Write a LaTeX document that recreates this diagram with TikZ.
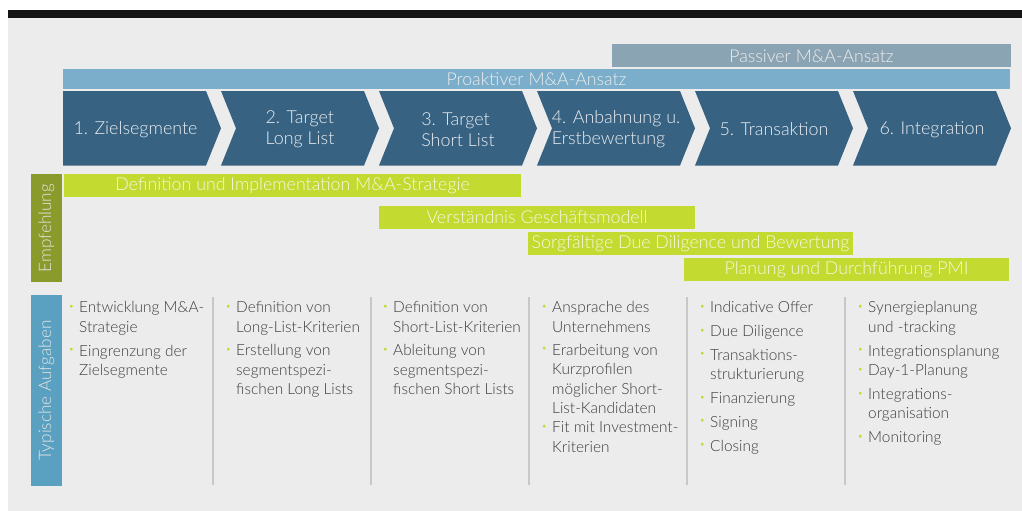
\documentclass[tikz,border=0pt]{standalone}
\usepackage{fontspec}
\setmainfont{Lato Light}
\usepackage{xcolor}
\usetikzlibrary{positioning}
\definecolor{cBack}{RGB}{236,236,236}
\definecolor{cTop}{RGB}{20,20,20}
\definecolor{cChev}{RGB}{55,98,130}
\definecolor{cProakt}{RGB}{123,174,203}
\definecolor{cPassiv}{RGB}{139,164,179}
\definecolor{cGreen}{RGB}{195,218,49}
\definecolor{cOlive}{RGB}{138,155,44}
\definecolor{cSide}{RGB}{90,160,192}
\definecolor{cSep}{RGB}{200,200,200}
\definecolor{cText}{RGB}{60,60,60}
\newcommand\bul{\leavevmode\llap{\raisebox{3.6pt}{\textcolor{cGreen}{\fontsize{9.5}{9.5}\selectfont\textbullet}}\hspace{5pt}}}

\begin{document}
\begin{tikzpicture}[x=1pt,y=1pt,font=\fontsize{17.7}{20}\selectfont,
  bar/.style={inner sep=0pt,minimum height=23,text=white!93!black},
  gbar/.style={bar,fill=cGreen,text=white!85!cGreen,font=\fontsize{17.8}{20}\selectfont},
  side/.style={inner sep=0pt,rotate=90,minimum height=31,text=white!90!black,font=\fontsize{17.2}{20}\selectfont},
  chev/.style={align=left,inner sep=0pt,text=white!90!cChev,font=\fontsize{17.9}{21}\selectfont},
  task/.style={anchor=north west,align=left,inner sep=0pt,text=cText,font=\fontsize{15.4}{19.3}\selectfont},
  sep/.style={cSep,line width=1.6pt}]
\useasboundingbox (0,0) rectangle (1022,-511);
\fill[cBack] (8,-18) rectangle (1022,-511);
\fill[cTop] (8,-10) rectangle (1022,-18);
% approach bars
\node[bar,fill=cPassiv,minimum width=399,minimum height=23.5] (passiv) at (811.5,-55.75) {Passiver M\&A-Ansatz};
\node[bar,fill=cProakt,minimum width=947,minimum height=20] (proakt) at (536.5,-79) {Proaktiver M\&A-Ansatz};
% process chevrons
\foreach \i/\t in {1/{1. Zielsegmente},2/{2. Target\\Long List},3/{3. Target\\Short List},
  4/{4. Anbahnung u.\\Erstbewertung},5/{5. Transaktion},6/{6. Integration}} {
  \pgfmathsetmacro\L{63+158*(\i-1)}
  \pgfmathsetmacro\n{\i>1 ? 15 : 0}
  \pgfmathsetmacro\c{\L+(\i>1 ? 79 : 72.5)}
  \fill[cChev] (\L,-91) -- ++(143,0) -- ++(15,-37.25) -- ++(-15,-37.25) -- ++(-143,0) -- ++(\n,37.25) -- cycle;
  \node[chev] (z\i) at (\c,-129.5) {\t};
}
% recommendations
\node[side,fill=cOlive,minimum width=108] (empf) at (46.5,-228) {Empfehlung};
\node[gbar,minimum width=457] (g1) at (292.5,-185.5) {Definition und Implementation M\&A-Strategie};
\node[gbar,minimum width=316] (g2) at (537,-217.5) {Verständnis Geschäftsmodell};
\node[gbar,minimum width=325] (g3) at (690.5,-243.5) {Sorgfältige Due Diligence und Bewertung};
\node[gbar,minimum width=325] (g4) at (846.5,-269.5) {Planung und Durchführung PMI};
% typical tasks
\node[side,fill=cSide,minimum width=191] (aufg) at (46.5,-390.5) {Typische Aufgaben};
\foreach \x in {213,371,529,687,845} \draw[sep] (\x,-297) -- (\x,-485);
\node[task] (t1) at (79,-301.5) {\bul Entwicklung M\&A-\\Strategie\\[4.5pt]\bul Eingrenzung der\\Zielsegmente};
\node[task] (t2) at (236,-301.5) {\bul Definition von\\Long-List-Kriterien\\[4.5pt]\bul Erstellung von\\segmentspezi-\\fischen Long Lists};
\node[task] (t3) at (393,-301.5) {\bul Definition von\\Short-List-Kriterien\\[4.5pt]\bul Ableitung von\\segmentspezi-\\fischen Short Lists};
\node[task] (t4) at (552,-301.5) {\bul Ansprache des\\Unternehmens\\[4pt]\bul Erarbeitung von\\Kurzprofilen\\möglicher Short-\\List-Kandidaten\\\bul Fit mit Investment-\\Kriterien};
\node[task] (t5) at (710,-301.5) {\bul Indicative Offer\\[4.5pt]\bul Due Diligence\\[4.5pt]\bul Transaktions-\\strukturierung\\[4.5pt]\bul Finanzierung\\[4.5pt]\bul Signing\\[4.5pt]\bul Closing};
\node[task] (t6) at (868,-301.5) {\bul Synergieplanung\\und -tracking\\[4.5pt]\bul Integrationsplanung\\[0.5pt]\bul Day-1-Planung\\[4.5pt]\bul Integrations-\\organisation\\[4.5pt]\bul Monitoring};
\end{tikzpicture}
\end{document}
